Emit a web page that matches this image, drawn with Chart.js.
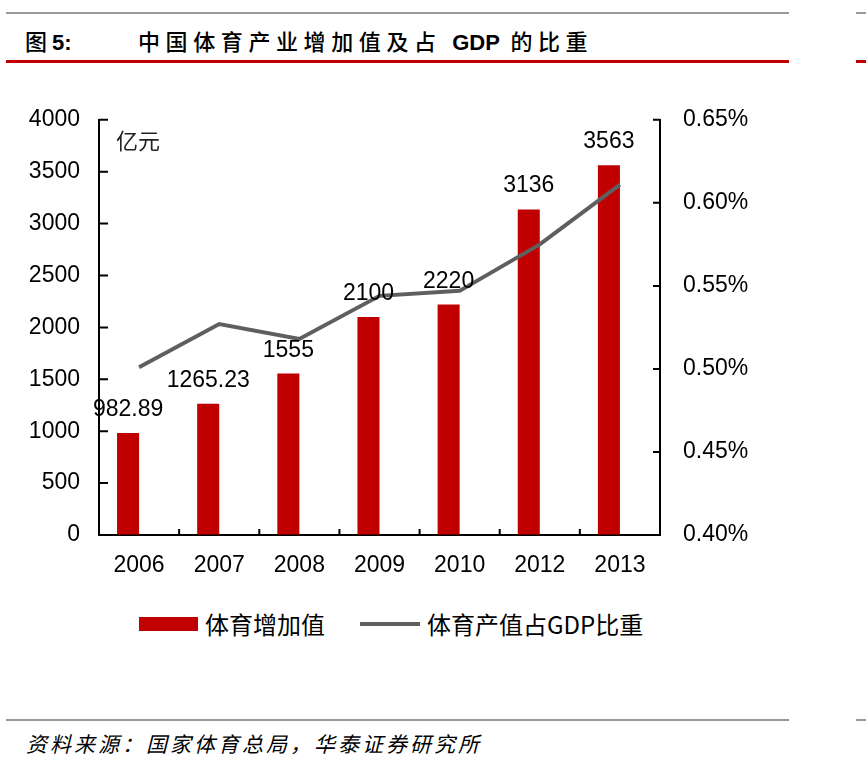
<!DOCTYPE html>
<html>
<head>
<meta charset="utf-8">
<script src="https://cdn.jsdelivr.net/npm/chart.js@4.4.0/dist/chart.umd.min.js"></script>
<style>
  html, body { margin: 0; padding: 0; background: #fff; }
  body { width: 866px; height: 771px; position: relative; overflow: hidden; font-family: "Liberation Sans", Arial, sans-serif; }
  .rule { position: absolute; height: 2px; background: #9a9a9a; }
  .red { background: #c00000; height: 3px; }
  #title { position: absolute; left: 25px; top: 24px; font: 500 22px "Noto Sans CJK SC", sans-serif; color: #000; white-space: nowrap; }
  #title .num { font-family: "Liberation Sans", Arial, sans-serif; font-weight: bold; letter-spacing: 0; }
  #title .txt { position: absolute; left: 113px; top: 0; letter-spacing: 5.6px; }
  #unit { position: absolute; left: 116px; top: 123px; font: 22px "Noto Sans CJK SC", sans-serif; color: #222; }
  #wrap { position: absolute; left: 0; top: 83px; width: 790px; height: 507px; }
  #legend { position: absolute; top: 607px; left: 0; width: 866px; height: 36px; font: 24px "Noto Sans CJK SC", sans-serif; color: #000; }
  #legend .box { position: absolute; left: 139px; top: 10px; width: 59px; height: 14px; background: #c00000; }
  #legend .ln { position: absolute; left: 360px; top: 15px; width: 60px; height: 4px; background: #5f5f5f; }
  #legend .t1 { position: absolute; left: 205px; top: -1px; }
  #legend .t2 { position: absolute; left: 427px; top: -1px; }
  #source { position: absolute; left: 26px; top: 728px; font: italic 21px "Noto Sans CJK SC", sans-serif; letter-spacing: 3px; color: #000; }
</style>
</head>
<body>
<div class="rule" style="left:6px;top:12px;width:783px;"></div>
<div class="rule" style="left:856px;top:12px;width:10px;"></div>
<div id="title"><span>图 <span class="num">5:</span></span><span class="txt">中国体育产业增加值及占 <span class="num">GDP</span> 的比重</span></div>
<div class="rule red" style="left:6px;top:60px;width:783px;"></div>
<div class="rule red" style="left:856px;top:60px;width:10px;"></div>

<div id="wrap"><canvas id="myChart"></canvas></div>
<div id="unit">亿元</div>

<div id="legend">
  <div class="box"></div><div class="t1">体育增加值</div>
  <div class="ln"></div><div class="t2">体育产值占GDP比重</div>
</div>

<div class="rule" style="left:6px;top:719px;width:783px;"></div>
<div class="rule" style="left:856px;top:719px;width:10px;"></div>
<div id="source">资料来源：国家体育总局，华泰证券研究所</div>

<script>
var anos = ['2006', '2007', '2008', '2009', '2010', '2012', '2013']
var valorAgregado = [982.89, 1265.23, 1555, 2100, 2220, 3136, 3563]
var rotulos = ['982.89', '1265.23', '1555', '2100', '2220', '3136', '3563']
var pesoPIB = [0.501, 0.527, 0.518, 0.544, 0.547, 0.575, 0.611]
var vazio = [null, null, null, null, null, null, null] // segunda serie vazia (desloca as barras)

var fonte = { family: 'Liberation Sans', size: 23 }

// rotulos acima das barras
const rotulosPlugin = {
    id: 'rotulos',
    afterDatasetsDraw(chart) {
        const ctx = chart.ctx
        const meta = chart.getDatasetMeta(0)
        ctx.save()
        ctx.font = '23px "Liberation Sans"'
        ctx.fillStyle = '#000'
        ctx.textAlign = 'center'
        ctx.textBaseline = 'alphabetic'
        meta.data.forEach(function (bar, i) {
            ctx.fillText(rotulos[i], bar.x, bar.y - 17)
        })
        ctx.restore()
    }
}

// marcas dos eixos para dentro
const marcasPlugin = {
    id: 'marcas',
    afterDraw(chart) {
        const ctx = chart.ctx
        const a = chart.chartArea
        const y = chart.scales.y
        const y2 = chart.scales.y2
        const x = chart.scales.x
        ctx.save()
        ctx.strokeStyle = '#000'
        ctx.lineWidth = 2
        ctx.beginPath()
        for (let i = 0; i < y.ticks.length; i++) {
            const py = y.getPixelForTick(i)
            ctx.moveTo(a.left, py)
            ctx.lineTo(a.left + 9, py)
        }
        for (let i = 0; i < y2.ticks.length; i++) {
            const py = y2.getPixelForTick(i)
            ctx.moveTo(a.right, py)
            ctx.lineTo(a.right - 7, py)
        }
        for (let i = 1; i < x.ticks.length; i++) {
            const px = (x.getPixelForTick(i - 1) + x.getPixelForTick(i)) / 2
            ctx.moveTo(px, a.bottom)
            ctx.lineTo(px, a.bottom - 6)
        }
        ctx.stroke()
        ctx.restore()
    }
}

const ctx = document.getElementById('myChart').getContext('2d')
const myChart = new Chart(ctx, {
    data: {
        labels: anos,
        datasets: [{
            type: 'bar',
            label: '体育增加值',
            data: valorAgregado,
            backgroundColor: '#c00000',
            yAxisID: 'y',
            barPercentage: 1.0,
            categoryPercentage: 0.55,
            order: 2
        },
        {
            type: 'bar',
            label: '',
            data: vazio,
            backgroundColor: 'rgba(0,0,0,0)',
            yAxisID: 'y',
            barPercentage: 1.0,
            categoryPercentage: 0.55,
            order: 3
        },
        {
            type: 'line',
            label: '体育产值占GDP比重',
            data: pesoPIB,
            borderColor: '#5f5f5f',
            borderWidth: 4,
            pointRadius: 0,
            tension: 0,
            fill: false,
            yAxisID: 'y2',
            order: 1
        }]
    },
    options: {
        responsive: true,
        maintainAspectRatio: false,
        animation: false,
        layout: { padding: { top: 24, bottom: 0, left: 0, right: 0 } },
        plugins: {
            legend: { display: false },
            tooltip: { enabled: false }
        },
        scales: {
            x: {
                offset: true,
                grid: { display: true, drawOnChartArea: false, drawTicks: false },
                border: { display: true, color: '#000', width: 2 },
                ticks: { color: '#000', font: fonte, padding: 17, maxRotation: 0 },
                afterFit: function (s) { s.height = 55 }
            },
            y: {
                position: 'left',
                min: 0,
                max: 4000,
                ticks: {
                    stepSize: 500, color: '#000', font: fonte, padding: 19,
                    callback: function (v) { return String(v) }
                },
                grid: { display: true, drawOnChartArea: false, drawTicks: false },
                border: { display: true, color: '#000', width: 2 },
                afterFit: function (s) { s.width = 99 }
            },
            y2: {
                position: 'right',
                min: 0.40,
                max: 0.65,
                ticks: {
                    stepSize: 0.05, color: '#000', font: fonte, padding: 23,
                    callback: function (v) { return v.toFixed(2) + '%' }
                },
                grid: { display: true, drawOnChartArea: false, drawTicks: false },
                border: { display: true, color: '#000', width: 2 },
                afterFit: function (s) { s.width = 130 }
            }
        }
    },
    plugins: [rotulosPlugin, marcasPlugin]
})
</script>
</body>
</html>
